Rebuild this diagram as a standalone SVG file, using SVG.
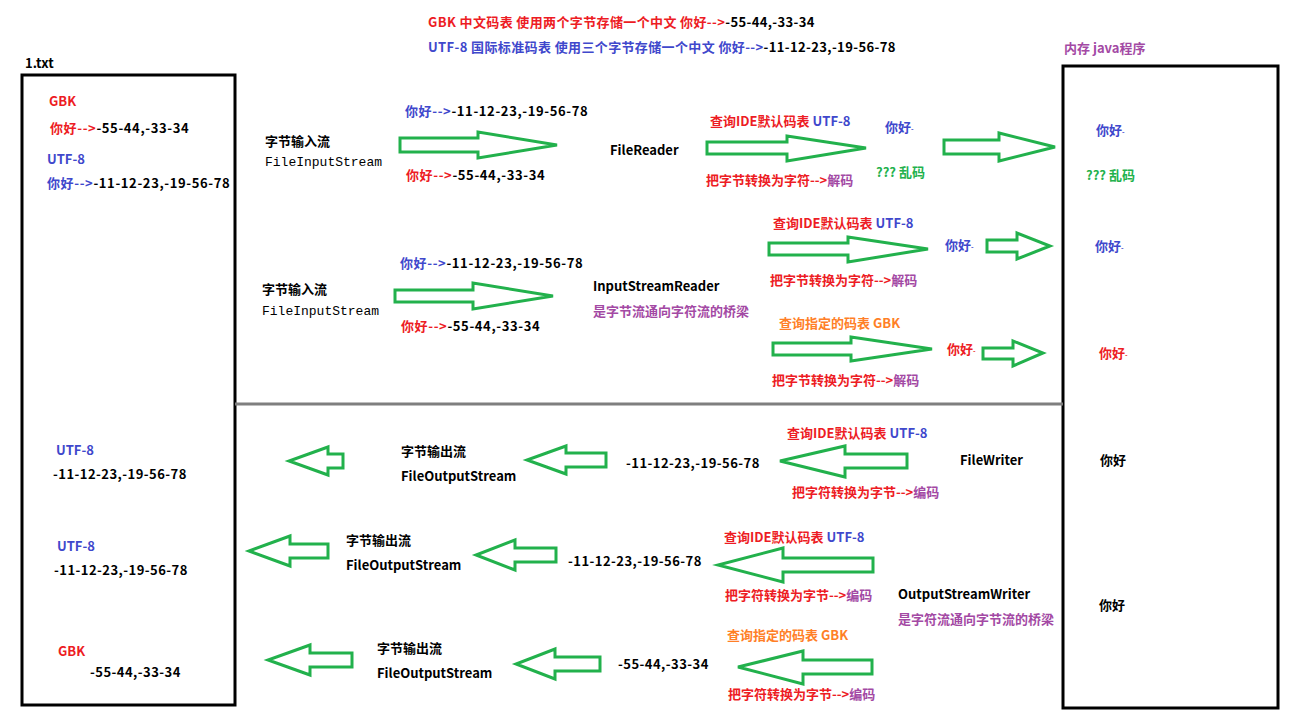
<svg xmlns="http://www.w3.org/2000/svg" width="1297" height="727" viewBox="0 0 1297 727">
<style>
text{font-family:"Microsoft YaHei","Noto Sans CJK SC","Noto Sans",sans-serif;font-weight:bold;font-size:13px;fill:#000}
.mono{font-family:"Liberation Mono","DejaVu Sans Mono",monospace;font-weight:normal;font-size:13px}
.r{fill:#ed1c24}.bl{fill:#3f48cc}.p{fill:#a349a4}.o{fill:#ff7f27}.g{fill:#22b14c}.k{fill:#000}
.h{letter-spacing:0.37px}
.w{letter-spacing:0.62px}
.m{letter-spacing:0.46px}
.box{fill:none;stroke:#000;stroke-width:3}
.div{stroke:#7f7f7f;stroke-width:3}
.arr{fill:#fff;stroke:#22b14c;stroke-width:3;stroke-linejoin:miter}
.dot{font-size:7px}
</style>
<rect width="1297" height="727" fill="#fff"/>
<g id="header">
<text x="428" y="27" class="h"><tspan class="r">GBK 中文码表 使用两个字节存储一个中文 你好--&gt;</tspan><tspan class="k">-55-44,-33-34</tspan></text>
<text x="428" y="52" class="h"><tspan class="bl">UTF-8 国际标准码表 使用三个字节存储一个中文 你好--&gt;</tspan><tspan class="k">-11-12-23,-19-56-78</tspan></text>
</g>
<g id="file-box">
<text x="25" y="68">1.txt</text>
<rect class="box" x="22" y="75" width="213" height="630"/>
<text x="49" y="106" class="r">GBK</text>
<text x="50" y="133" class="w"><tspan class="r">你好--&gt;</tspan>-55-44,-33-34</text>
<text x="47" y="164" class="bl">UTF-8</text>
<text x="47" y="188" class="w"><tspan class="bl">你好--&gt;</tspan>-11-12-23,-19-56-78</text>
<text x="56" y="455" class="bl">UTF-8</text>
<text x="53" y="479" class="m">-11-12-23,-19-56-78</text>
<text x="57" y="551" class="bl">UTF-8</text>
<text x="54" y="575" class="m">-11-12-23,-19-56-78</text>
<text x="58" y="656" class="r">GBK</text>
<text x="90" y="677" class="m">-55-44,-33-34</text>
</g>
<g id="memory-box">
<text x="1064" y="53" class="p">内存 java程序</text>
<rect class="box" x="1063" y="66" width="215" height="642"/>
<text x="1096" y="135" class="bl">你好<tspan class="dot">-</tspan></text>
<text x="1086" y="180" class="g">??? 乱码</text>
<text x="1095" y="251" class="bl">你好<tspan class="dot">-</tspan></text>
<text x="1099" y="358" class="r">你好<tspan class="dot">-</tspan></text>
<text x="1100" y="465">你好</text>
<text x="1099" y="610">你好</text>
</g>
<line id="divider" class="div" x1="235" y1="404" x2="1063" y2="404"/>
<g id="fis1">
<text x="265" y="146">字节输入流</text>
<text x="265" y="166" class="mono">FileInputStream</text>
<text x="405" y="116" class="w"><tspan class="bl">你好--&gt;</tspan>-11-12-23,-19-56-78</text>
<text x="406" y="180" class="w"><tspan class="r">你好--&gt;</tspan>-55-44,-33-34</text>
</g>
<g id="filereader">
<text x="610" y="155">FileReader</text>
<text x="710" y="126"><tspan class="r">查询IDE默认码表 </tspan><tspan class="bl">UTF-8</tspan></text>
<text x="706" y="185"><tspan class="r">把字节转换为字符--&gt;</tspan><tspan class="p">解码</tspan></text>
<text x="885" y="132" class="bl">你好<tspan class="dot">-</tspan></text>
<text x="876" y="177" class="g">??? 乱码</text>
</g>
<g id="fis2">
<text x="262" y="294">字节输入流</text>
<text x="262" y="315" class="mono">FileInputStream</text>
<text x="400" y="268" class="w"><tspan class="bl">你好--&gt;</tspan>-11-12-23,-19-56-78</text>
<text x="401" y="331" class="w"><tspan class="r">你好--&gt;</tspan>-55-44,-33-34</text>
</g>
<g id="isr">
<text x="593" y="291">InputStreamReader</text>
<text x="593" y="316" class="p">是字节流通向字符流的桥梁</text>
<text x="773" y="228"><tspan class="r">查询IDE默认码表 </tspan><tspan class="bl">UTF-8</tspan></text>
<text x="770" y="285"><tspan class="r">把字节转换为字符--&gt;</tspan><tspan class="p">解码</tspan></text>
<text x="945" y="250" class="bl">你好<tspan class="dot">-</tspan></text>
<text x="779" y="328" class="o">查询指定的码表 GBK</text>
<text x="772" y="385"><tspan class="r">把字节转换为字符--&gt;</tspan><tspan class="p">解码</tspan></text>
<text x="947" y="354" class="r">你好<tspan class="dot">-</tspan></text>
</g>
<g id="filewriter">
<text x="401" y="456">字节输出流</text>
<text x="401" y="481">FileOutputStream</text>
<text x="626" y="468" class="m">-11-12-23,-19-56-78</text>
<text x="787" y="438"><tspan class="r">查询IDE默认码表 </tspan><tspan class="bl">UTF-8</tspan></text>
<text x="792" y="497"><tspan class="r">把字符转换为字节--&gt;</tspan><tspan class="p">编码</tspan></text>
<text x="960" y="465">FileWriter</text>
</g>
<g id="osw-utf8">
<text x="346" y="545">字节输出流</text>
<text x="346" y="570">FileOutputStream</text>
<text x="568" y="566" class="m">-11-12-23,-19-56-78</text>
<text x="724" y="542"><tspan class="r">查询IDE默认码表 </tspan><tspan class="bl">UTF-8</tspan></text>
<text x="725" y="600"><tspan class="r">把字符转换为字节--&gt;</tspan><tspan class="p">编码</tspan></text>
<text x="898" y="599">OutputStreamWriter</text>
<text x="898" y="624" class="p">是字符流通向字节流的桥梁</text>
</g>
<g id="osw-gbk">
<text x="377" y="653">字节输出流</text>
<text x="377" y="678">FileOutputStream</text>
<text x="618" y="669" class="m">-55-44,-33-34</text>
<text x="727" y="640" class="o">查询指定的码表 GBK</text>
<text x="728" y="699"><tspan class="r">把字符转换为字节--&gt;</tspan><tspan class="p">编码</tspan></text>
</g>
<g id="connectors">
<polygon class="arr" points="400,138 478,138 478,132 557,145 478,158 478,152 400,152"/>
<polygon class="arr" points="707,142 787,142 787,136 866,148 787,161 787,154 707,154"/>
<polygon class="arr" points="944,140 999,140 999,133 1055,147 999,161 999,154 944,154"/>
<polygon class="arr" points="395,290 473,290 473,283 553,296 473,309 473,302 395,302"/>
<polygon class="arr" points="769,243 848,243 848,237 928,249 848,262 848,255 769,255"/>
<polygon class="arr" points="987,240 1017,240 1017,233 1050,246 1017,259 1017,252 987,252"/>
<polygon class="arr" points="773,343 851,343 851,337 932,349 851,361 851,355 773,355"/>
<polygon class="arr" points="983,348 1013,348 1013,341 1043,353 1013,366 1013,359 983,359"/>
<polygon class="arr" points="343,454 328,454 328,447 289,461 328,475 328,468 343,468"/>
<polygon class="arr" points="606,453 566,453 566,446 527,460 566,474 566,467 606,467"/>
<polygon class="arr" points="907,454 845,454 845,446 780,461 845,477 845,468 907,468"/>
<polygon class="arr" points="328,544 290,544 290,536 249,551 290,566 290,558 328,558"/>
<polygon class="arr" points="556,548 515,548 515,540 476,555 515,570 515,562 556,562"/>
<polygon class="arr" points="873,558 783,558 783,548 718,565 783,582 783,572 873,572"/>
<polygon class="arr" points="352,653 310,653 310,645 268,660 310,675 310,667 352,667"/>
<polygon class="arr" points="600,657 555,657 555,649 516,664 555,679 555,671 600,671"/>
<polygon class="arr" points="872,660 803,660 803,651 738,667 803,684 803,674 872,674"/>
</g>
</svg>
